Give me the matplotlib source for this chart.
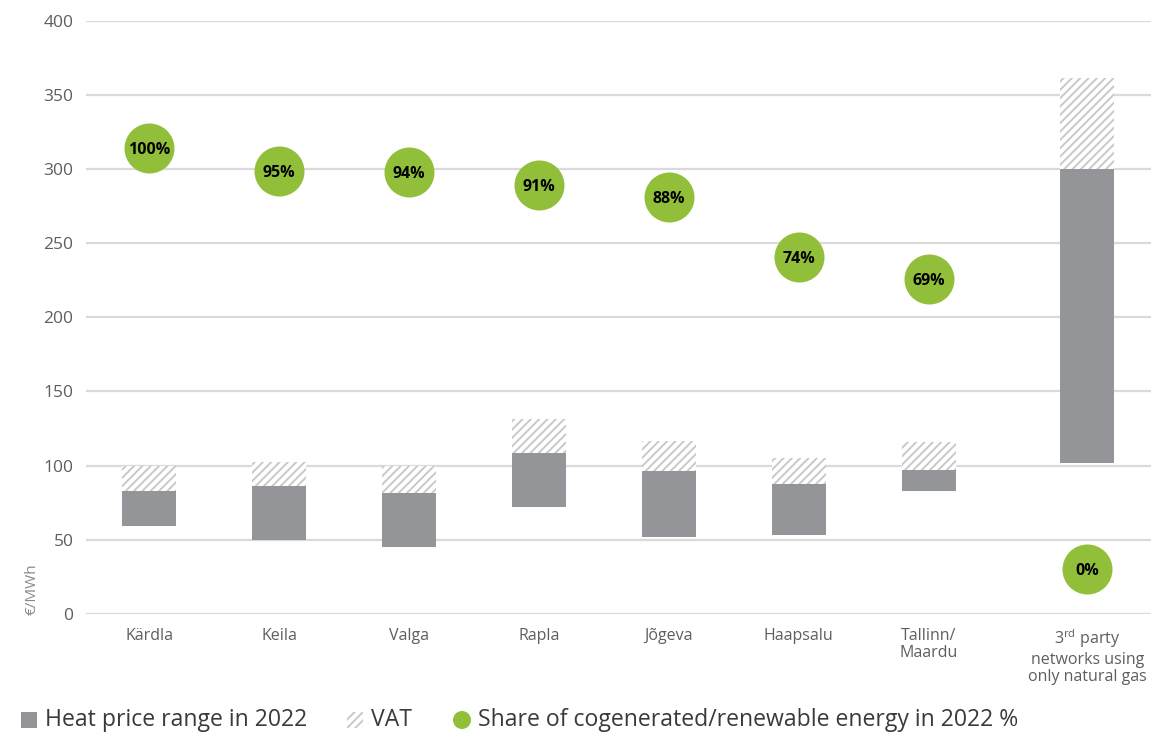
import matplotlib
matplotlib.use("Agg")
import matplotlib.pyplot as plt
from matplotlib.patches import Rectangle, Circle
import numpy as np

plt.rcParams['font.family'] = ['Open Sans', 'DejaVu Sans']
plt.rcParams['mathtext.fontset'] = 'custom'
plt.rcParams['mathtext.rm'] = 'Open Sans'
plt.rcParams['hatch.linewidth'] = 1.4

# Data
categories = ["Kärdla", "Keila", "Valga", "Rapla", "Jõgeva", "Haapsalu",
              "Tallinn/\nMaardu", "3$^{\\mathrm{rd}}$ party\nnetworks using\nonly natural gas"]
price_low = [59, 50, 45.3, 72, 51.8, 53.2, 83.1, 101.4]
price_high = [83.1, 86.3, 81.6, 108.6, 96.4, 87.6, 97.1, 300]
price_with_vat = [100, 102.7, 100, 131.6, 116.7, 105.2, 116.2, 361.3]
share_pct = [100, 95, 94, 91, 88, 74, 69, 0]
share_y = [314, 299, 298, 289, 281, 241, 226, 30]
yticks = [0, 50, 100, 150, 200, 250, 300, 350, 400]

# Layout
xpos = np.array([0, 1, 2, 3, 4, 5, 6, 7.22])
bar_w = 0.415
gray = "#939598"
green = "#92BF3A"
hatch_col = "#c9c9c9"
tick_col = "#5e5e5e"
legend_col = "#3a3a3a"

W, H = 1151, 732
fig = plt.figure(figsize=(W / 100, H / 100), dpi=100)
ax = fig.add_axes([86 / W, (H - 613.7) / H, 1 - 86 / W, (613.7 - 21) / H])

ax.set_ylim(0, 400)
ax.set_xlim(-0.485, 7.71)
ax.set_yticks(yticks)
for y in yticks:
    ax.axhline(y, color="#dadada", lw=1.6, zorder=0)

low = np.array(price_low)
high = np.array(price_high)
vat = np.array(price_with_vat)

ax.bar(xpos, high - low, bottom=low, width=bar_w, color=gray, lw=0, zorder=2)
ax.bar(xpos, vat - high, bottom=high, width=bar_w, color="white",
       edgecolor=hatch_col, hatch="////", lw=0, zorder=2)

ax.scatter(xpos, share_y, s=36 ** 2, color=green, lw=0, zorder=3)
for x, y, p in zip(xpos, share_y, share_pct):
    ax.text(x, y, f"{p}%", ha="center", va="center_baseline", fontsize=11.5,
            fontweight="bold", color="black", zorder=4)

for s in ax.spines.values():
    s.set_visible(False)
ax.tick_params(length=0, colors=tick_col)
ax.tick_params(axis="y", labelsize=12.5, pad=9)
ax.tick_params(axis="x", labelsize=11.5, pad=10)
ax.set_xticks(xpos)
ax.set_xticklabels(categories, linespacing=1.12)

fig.text(32 / W, 1 - 589 / H, "€/MWh", rotation=90, ha="center", va="center",
         fontsize=11, color="#8a8a8a")

# Legend drawn along the bottom edge
base = 1 - 726 / H
sq = 16
fig.patches.append(Rectangle((21 / W, (H - 728) / H), sq / W, sq / H,
                             transform=fig.transFigure, color=gray, lw=0))
fig.text(45 / W, base, "Heat price range in 2022", ha="left", va="baseline",
         fontsize=16.6, color=legend_col)
fig.patches.append(Rectangle((347 / W, (H - 728) / H), sq / W, sq / H,
                             transform=fig.transFigure, facecolor="white",
                             edgecolor=hatch_col, hatch="////", lw=0))
fig.text(371 / W, base, "VAT", ha="left", va="baseline", fontsize=16.6,
         color=legend_col)
ax_leg = fig.add_axes([0, 0, 1, 1], facecolor="none")
ax_leg.set_xlim(0, W)
ax_leg.set_ylim(H, 0)
ax_leg.axis("off")
ax_leg.add_patch(Circle((462, 720), 9, color=green, lw=0))
fig.text(478 / W, base, "Share of cogenerated/renewable energy in 2022 %",
         ha="left", va="baseline", fontsize=16.6, color=legend_col)

fig.savefig("out.png", dpi=100)
